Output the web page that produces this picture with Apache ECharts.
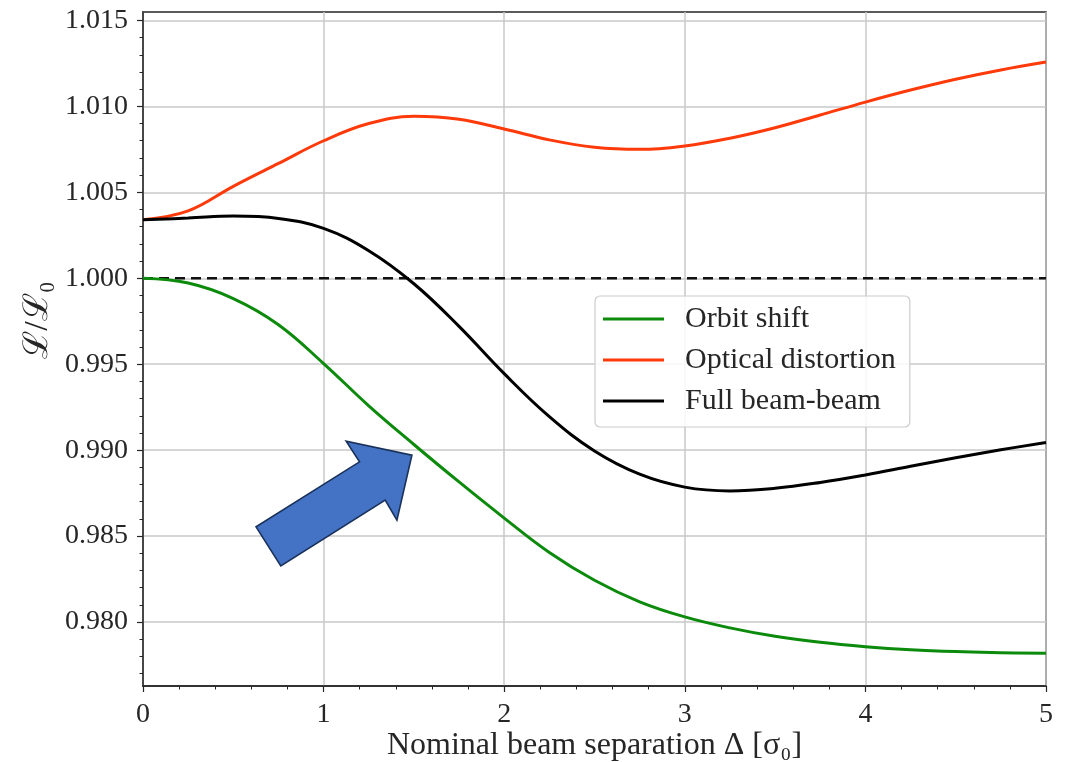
<!DOCTYPE html>
<html>
<head>
<meta charset="utf-8">
<script src="https://cdn.jsdelivr.net/npm/echarts@6/dist/echarts.min.js"></script>
<style>
  html, body { margin: 0; padding: 0; background: #ffffff; }
  #chart { width: 1073px; height: 762px; }
</style>
</head>
<body>
<div id="chart"></div>
<script>
// Nominal beam separation in units of sigma_0
const separation = [0, 0.25, 0.5, 0.75, 1.0, 1.25, 1.5, 1.75, 2.0, 2.25, 2.5,
                    2.75, 3.0, 3.25, 3.5, 3.75, 4.0, 4.25, 4.5, 4.75, 5.0];

// Luminosity ratio L/L0 for each beam-beam contribution
const orbitShift = [1.00000, 0.99972, 0.99882, 0.99730, 0.99504, 0.99258, 0.99033,
                    0.98815, 0.98605, 0.98405, 0.98243, 0.98118, 0.98030, 0.97966,
                    0.97917, 0.97882, 0.97857, 0.97839, 0.97828, 0.97822, 0.97818];
const opticalDistortion = [1.00341, 1.00392, 1.00535, 1.00668, 1.00800, 1.00900, 1.00942,
                           1.00925, 1.00868, 1.00805, 1.00762, 1.00750, 1.00770, 1.00815,
                           1.00876, 1.00950, 1.01025, 1.01095, 1.01158, 1.01212, 1.01258];
const fullBeamBeam = [1.00341, 1.00350, 1.00362, 1.00348, 1.00290, 1.00160, 0.99968,
                      0.99720, 0.99445, 0.99195, 0.98995, 0.98860, 0.98785, 0.98763,
                      0.98778, 0.98812, 0.98856, 0.98906, 0.98956, 0.99002, 0.99045];
const referenceLevel = 1.0;

// Axis ticks
const xTickLabels = [0, 1, 2, 3, 4, 5];
const yTickLabels = [0.980, 0.985, 0.990, 0.995, 1.000, 1.005, 1.010, 1.015];
const xRange = [0, 5];
const yRange = [0.97628, 1.01549];

const seriesNames = ['Orbit shift', 'Optical distortion', 'Full beam-beam'];

// Minor y ticks every 0.001
const yMinorTicks = [];
for (let k = 977; k <= 1015; k++) yMinorTicks.push(k / 1000);

// Outline of the pointer arrow, in data units (separation, L/L0)
const arrowOutline = [
  [0.626, 0.98554], [0.763, 0.98326], [1.341, 0.98709], [1.406, 0.98593],
  [1.489, 0.98971], [1.125, 0.99052], [1.199, 0.98932]
];

const pairs = (ys) => separation.map((x, i) => [x, ys[i]]);

const serif = '"Liberation Serif", "DejaVu Serif", serif';
const ink = '#262626';

const chart = echarts.init(document.getElementById('chart'), null, { renderer: 'canvas' });

const curve = (name, values, color) => ({
  name: name, type: 'line', data: pairs(values),
  smooth: 0.4, showSymbol: false, z: 4, color: color,
  lineStyle: { color: color, width: 3 }
});

chart.setOption({
  animation: false,
  backgroundColor: '#ffffff',
  grid: {
    left: 143, right: 27, top: 12, bottom: 76,
    outerBoundsMode: 'none', containLabel: false,
    show: true, borderColor: ink, borderWidth: 1.5, backgroundColor: 'transparent'
  },
  xAxis: {
    type: 'value',
    min: xRange[0], max: xRange[1], interval: 1,
    name: 'Nominal beam separation Δ [σ₀]',
    nameLocation: 'middle', nameGap: 44, nameMoveOverlap: false,
    nameTextStyle: { fontFamily: serif, fontSize: 32, color: ink },
    axisLine: { show: true, onZero: false, lineStyle: { color: ink, width: 1.5 } },
    axisTick: { show: true, inside: false, length: 6, lineStyle: { color: ink, width: 1.2 } },
    minorTick: { show: true, splitNumber: 5, length: 3.5, lineStyle: { color: ink, width: 1 } },
    axisLabel: {
      margin: 15, fontFamily: serif, fontSize: 28, color: ink,
      customValues: xTickLabels, formatter: (v) => String(v)
    },
    splitLine: { show: true, lineStyle: { color: '#c8c8c8', width: 1.5 } }
  },
  yAxis: [
    {
      type: 'value',
      min: yRange[0], max: yRange[1],
      name: 'ℒ/ℒ₀',
      nameLocation: 'middle', nameGap: 88, nameRotate: 90, nameMoveOverlap: false,
      nameTextStyle: { fontFamily: serif, fontSize: 34, color: ink, padding: [0, 0, 0, 58] },
      axisLine: { show: true, onZero: false, lineStyle: { color: ink, width: 1.5 } },
      axisTick: { show: true, inside: false, length: 6, customValues: yTickLabels,
                  lineStyle: { color: ink, width: 1.2 } },
      axisLabel: {
        margin: 15, fontFamily: serif, fontSize: 28, color: ink,
        customValues: yTickLabels, formatter: (v) => v.toFixed(3)
      },
      splitLine: { show: true, lineStyle: { color: '#c8c8c8', width: 1.5 } }
    },
    {
      type: 'value',
      position: 'left',
      min: yRange[0], max: yRange[1],
      axisLine: { show: false },
      axisTick: { show: true, inside: false, length: 3.5, customValues: yMinorTicks,
                  lineStyle: { color: ink, width: 1 } },
      axisLabel: { show: false },
      splitLine: { show: false }
    }
  ],
  legend: {
    data: seriesNames,
    orient: 'vertical',
    left: 595, top: 296,
    icon: 'rect',
    itemWidth: 61, itemHeight: 3,
    itemGap: 11,
    padding: [8, 14, 11, 8],
    backgroundColor: 'rgba(255,255,255,0.85)',
    borderColor: '#cccccc', borderWidth: 1.2, borderRadius: 5,
    textStyle: { fontFamily: serif, fontSize: 30, color: ink, lineHeight: 30, padding: [0, 0, 0, 16] }
  },
  series: [
    {
      name: 'reference', type: 'line', data: [[xRange[0], referenceLevel], [xRange[1], referenceLevel]],
      showSymbol: false, silent: true, z: 3,
      lineStyle: { color: '#111111', width: 2.5, type: [10, 6] }
    },
    curve(seriesNames[0], orbitShift, '#0c8a0c'),
    curve(seriesNames[1], opticalDistortion, '#ff3a0a'),
    curve(seriesNames[2], fullBeamBeam, '#000000'),
    {
      name: 'pointer', type: 'custom', silent: true, z: 6,
      data: [[arrowOutline[4][0], arrowOutline[4][1]]],
      renderItem: function (params, api) {
        const points = arrowOutline.map((p) => api.coord(p));
        return {
          type: 'polygon',
          shape: { points: points },
          style: { fill: '#4472C4', stroke: '#1a3159', lineWidth: 1.6 }
        };
      }
    }
  ]
});
</script>
</body>
</html>
